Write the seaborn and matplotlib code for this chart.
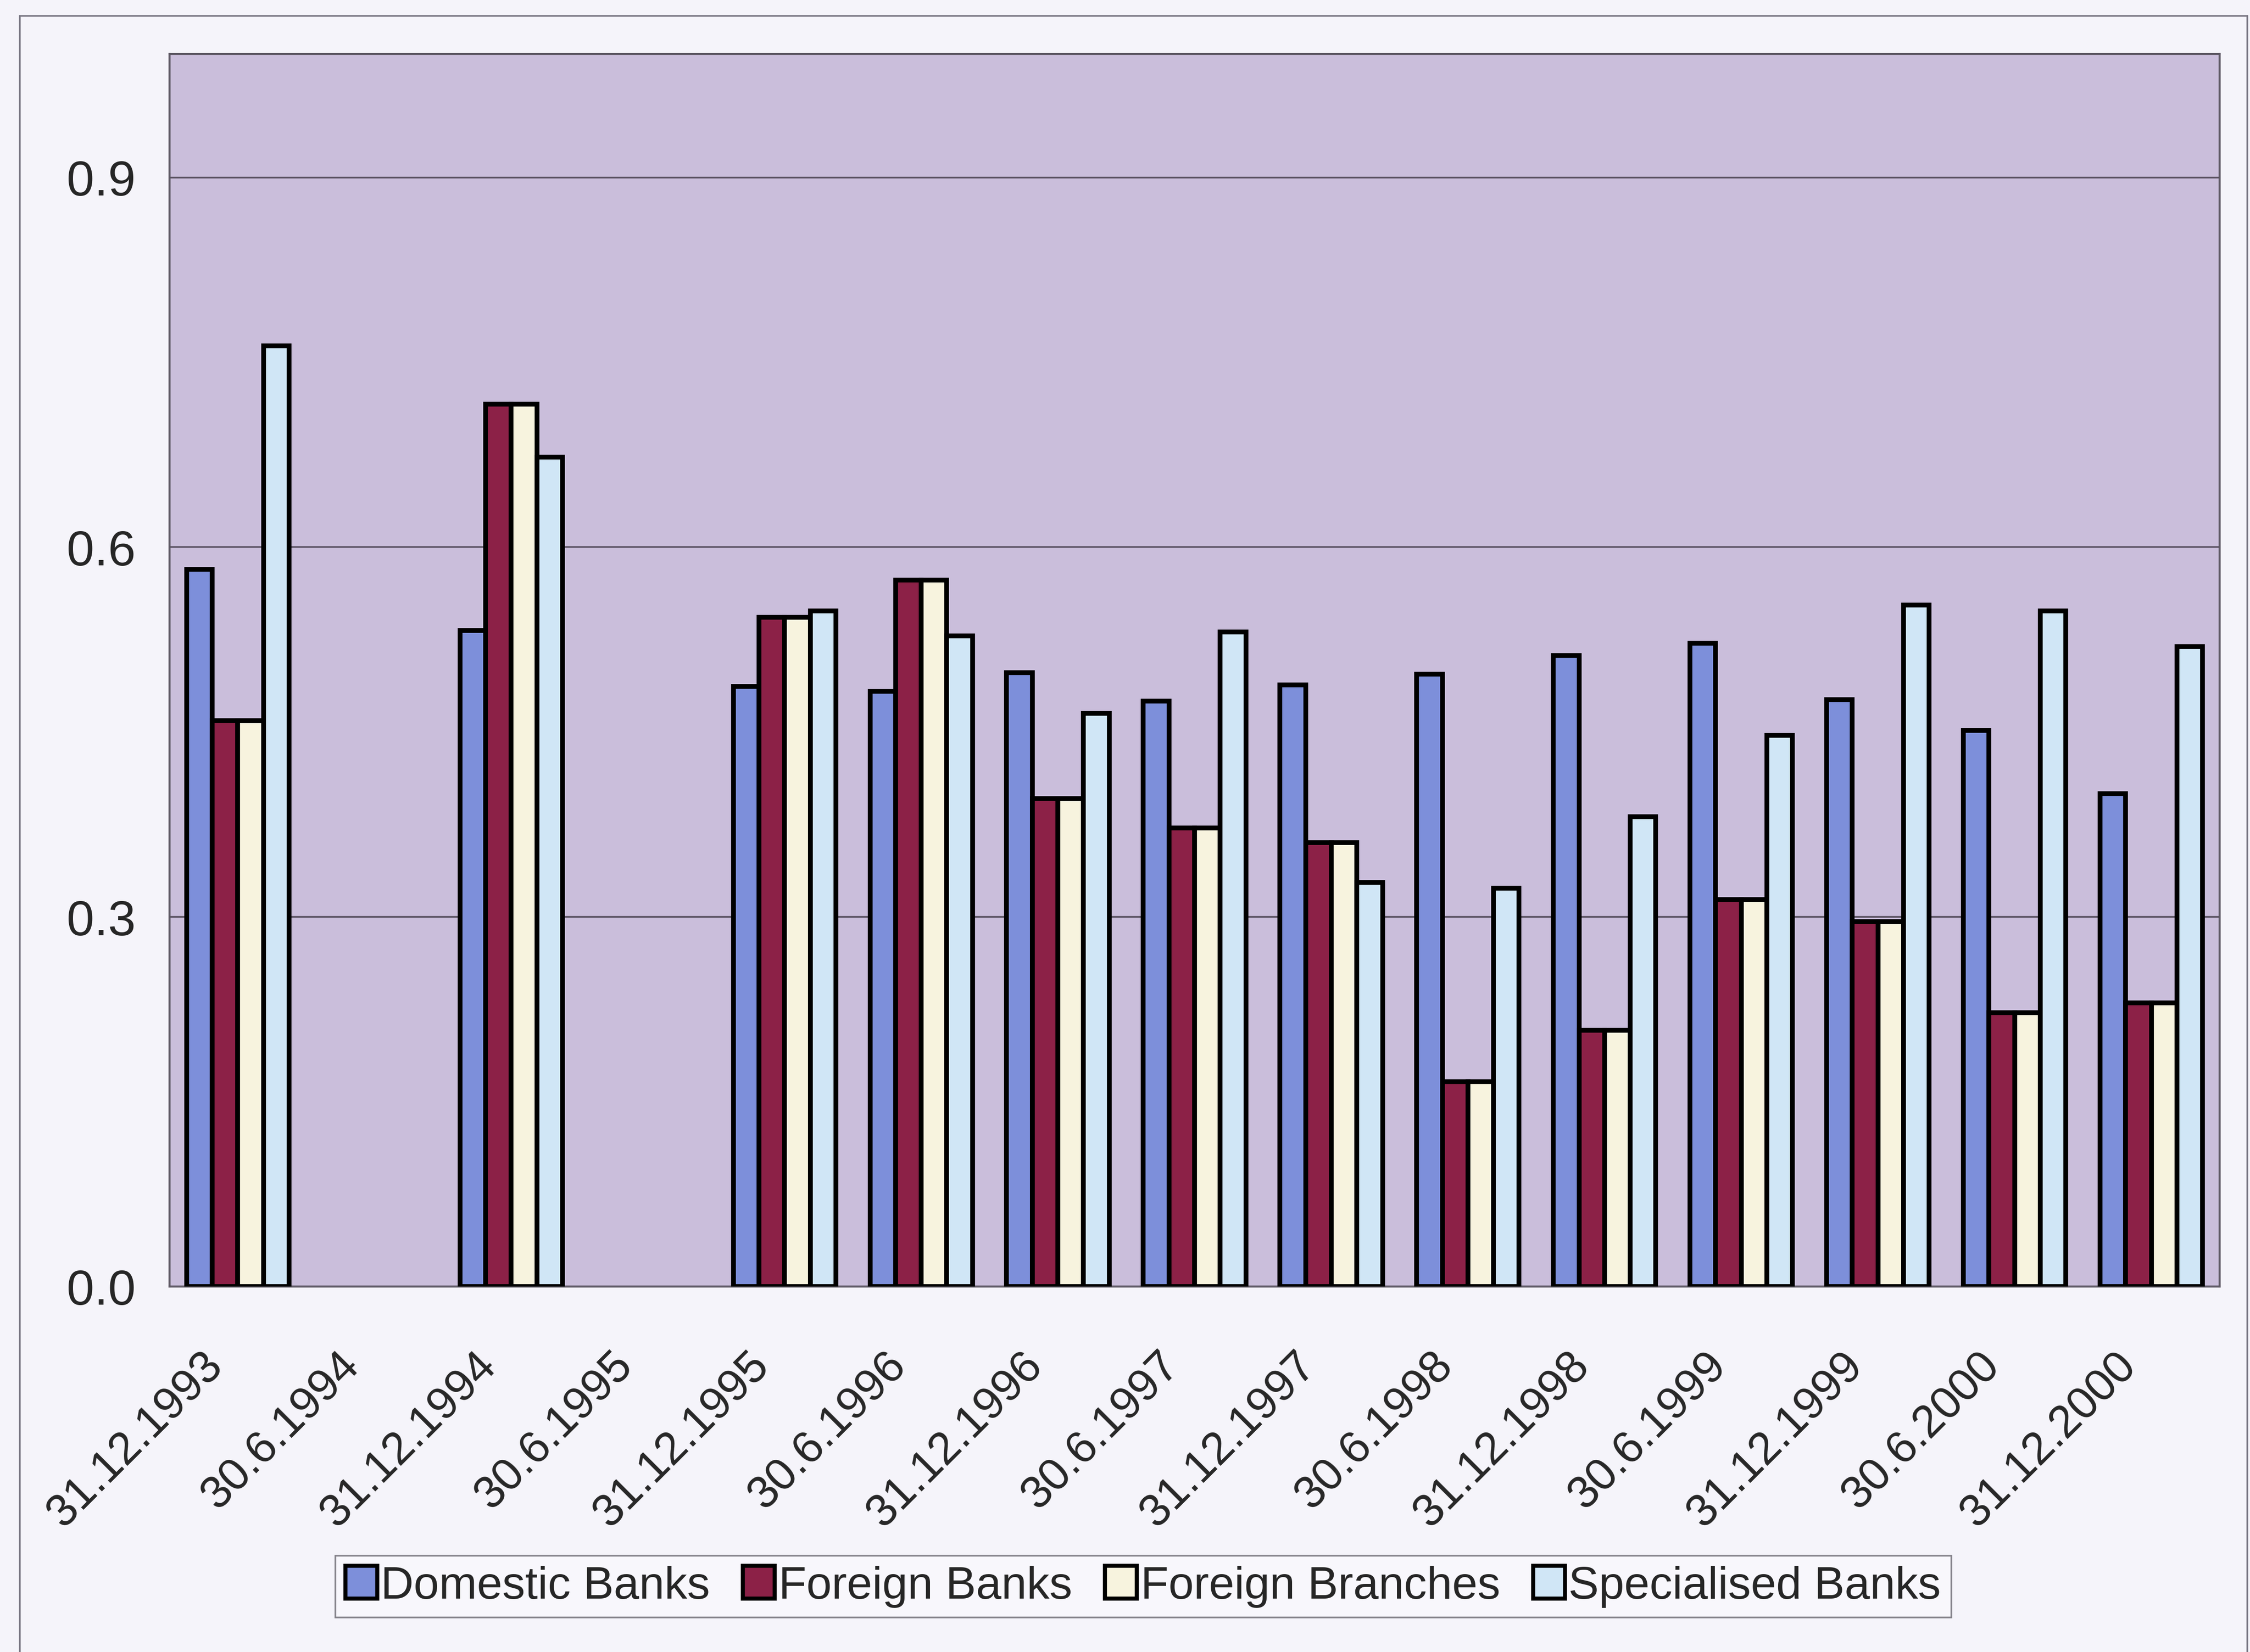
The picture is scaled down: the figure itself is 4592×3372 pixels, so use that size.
import numpy as np
import pandas as pd
import matplotlib
matplotlib.use("Agg")
import matplotlib.pyplot as plt
import matplotlib.transforms as mtransforms
from matplotlib.patches import Patch, Rectangle
import seaborn as sns

# ---- data -------------------------------------------------------------
dates = ["31.12.1993", "30.6.1994", "31.12.1994", "30.6.1995", "31.12.1995",
         "30.6.1996", "31.12.1996", "30.6.1997", "31.12.1997", "30.6.1998",
         "31.12.1998", "30.6.1999", "31.12.1999", "30.6.2000", "31.12.2000"]

series_names = ["Domestic Banks", "Foreign Banks", "Foreign Branches", "Specialised Banks"]

domestic_banks = [0.582, np.nan, 0.532, np.nan, 0.487, 0.483, 0.498, 0.475,
                  0.488, 0.497, 0.512, 0.522, 0.476, 0.451, 0.400]
foreign_banks = [0.459, np.nan, 0.716, np.nan, 0.543, 0.573, 0.396, 0.372,
                 0.360, 0.166, 0.208, 0.314, 0.296, 0.222, 0.230]
foreign_branches = [0.459, np.nan, 0.716, np.nan, 0.543, 0.573, 0.396, 0.372,
                    0.360, 0.166, 0.208, 0.314, 0.296, 0.222, 0.230]
specialised_banks = [0.763, np.nan, 0.673, np.nan, 0.548, 0.528, 0.465, 0.531,
                     0.328, 0.323, 0.381, 0.447, 0.553, 0.548, 0.519]

y_ticks = [0.0, 0.3, 0.6, 0.9]
y_tick_labels = ["0.0", "0.3", "0.6", "0.9"]

# ---- styling ----------------------------------------------------------
bar_colors = ["#7d8fda", "#8c2147", "#f7f3de", "#d0e6f6"]
fig_bg = "#f5f4fa"
plot_bg = "#cabedb"
grid_col = "#5a5262"

sns.set_style("white")
plt.rcParams["font.family"] = ["Liberation Sans", "DejaVu Sans"]

df = pd.DataFrame({
    "date": dates * 4,
    "series": np.repeat(series_names, len(dates)),
    "value": domestic_banks + foreign_banks + foreign_branches + specialised_banks,
})

W, H = 4592, 3373
fig = plt.figure(figsize=(W / 100, H / 100), dpi=100, facecolor=fig_bg)

# outer chart frame
fig.add_artist(Rectangle((40 / W, -0.01), (4586 - 40) / W, 1.01 - 33 / H,
                         transform=fig.transFigure, fill=False,
                         edgecolor="#7a7884", linewidth=2.5))

ax = fig.add_axes([346 / W, 1 - 2627 / H, (4530 - 346) / W, (2627 - 111) / H])
ax.set_facecolor(plot_bg)

sns.barplot(data=df, x="date", y="value", hue="series", order=dates,
            hue_order=series_names, palette=bar_colors, width=0.75,
            edgecolor="black", linewidth=7, saturation=1, errorbar=None,
            legend=False, ax=ax, zorder=3)

ax.set_xlim(-0.5, len(dates) - 0.5)
ax.set_ylim(0, 1.0)
ax.set_xlabel("")
ax.set_ylabel("")

# horizontal grid lines
for y in y_ticks[1:]:
    ax.axhline(y, color=grid_col, linewidth=2.5, zorder=1)

ax.set_yticks(y_ticks)
ax.set_yticklabels(y_tick_labels)
ax.tick_params(axis="y", direction="out", length=24, width=2.5,
               color=grid_col, pad=26, labelsize=73)

# category ticks: labels at centres, tick marks between categories
ax.set_xticks(range(len(dates)))
ax.set_xticklabels(dates)
ax.set_xticks(np.arange(-0.5, len(dates), 1.0), minor=True)
ax.tick_params(axis="x", which="major", length=0, pad=106, labelsize=67)
ax.tick_params(axis="x", which="minor", direction="out", length=24,
               width=2.5, color=grid_col)
shift = mtransforms.ScaledTranslation(-45 / 100, 0, fig.dpi_scale_trans)
for lab in ax.get_xticklabels():
    lab.set_rotation(45)
    lab.set_ha("right")
    lab.set_va("center")
    lab.set_rotation_mode("anchor")
    lab.set_transform(lab.get_transform() + shift)

for side in ["left", "bottom", "top", "right"]:
    ax.spines[side].set_visible(True)
    ax.spines[side].set_color("#5a5560")
    ax.spines[side].set_linewidth(3)

handles = [Patch(facecolor=c, edgecolor="black", linewidth=6) for c in bar_colors]
leg = fig.legend(handles, series_names, loc="center",
                 bbox_to_anchor=(2333 / W, 1 - 3239 / H), ncol=4,
                 frameon=True, fancybox=False, edgecolor="#6c6a72",
                 facecolor="#f9f9fd", fontsize=67, handlelength=0.7,
                 handleheight=0.72, handletextpad=0.08, columnspacing=0.72,
                 borderpad=0.22, borderaxespad=0)
leg.get_frame().set_linewidth(2.5)

fig.savefig("out.png", dpi=100, facecolor=fig_bg)
